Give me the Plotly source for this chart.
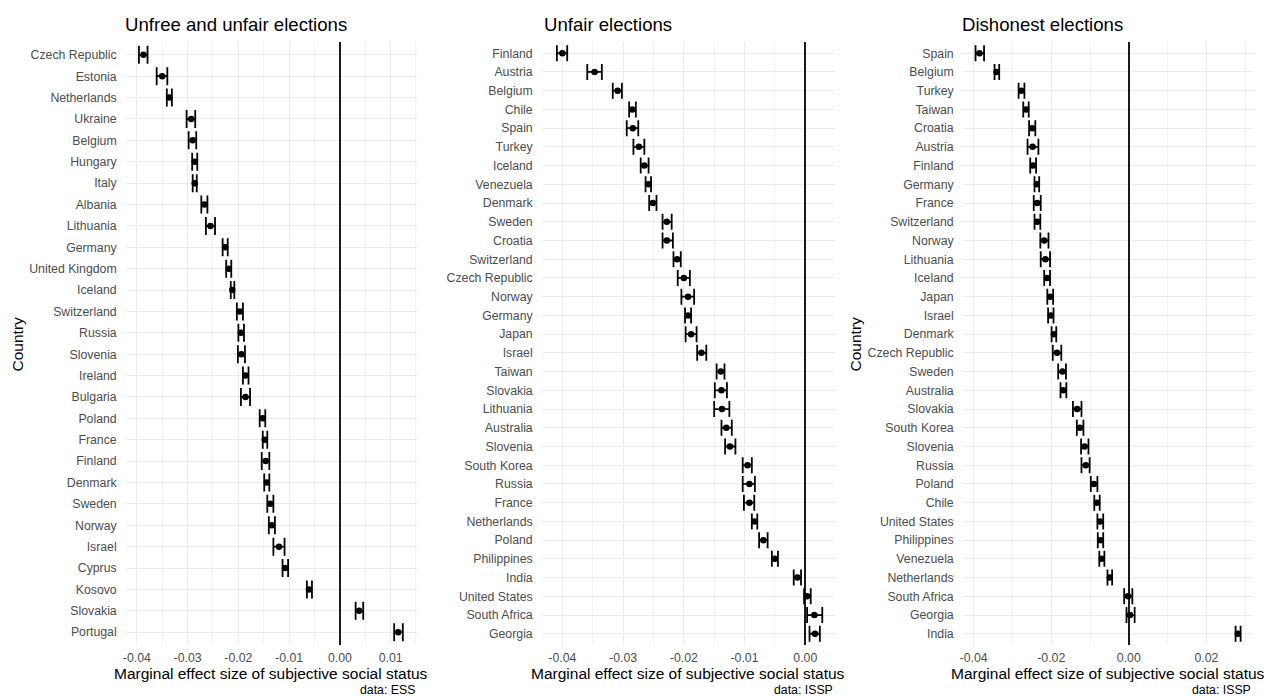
import plotly.graph_objects as go

# ---------------- data ----------------
ess_countries = ["Czech Republic", "Estonia", "Netherlands", "Ukraine", "Belgium", "Hungary",
                 "Italy", "Albania", "Lithuania", "Germany", "United Kingdom", "Iceland",
                 "Switzerland", "Russia", "Slovenia", "Ireland", "Bulgaria", "Poland", "France",
                 "Finland", "Denmark", "Sweden", "Norway", "Israel", "Cyprus", "Kosovo",
                 "Slovakia", "Portugal"]
ess_est = [-0.0387, -0.0350, -0.0336, -0.0293, -0.0290, -0.0286, -0.0286, -0.0267, -0.0255,
           -0.0226, -0.0219, -0.0212, -0.0197, -0.0195, -0.0194, -0.0186, -0.0186, -0.0152,
           -0.0148, -0.0146, -0.0144, -0.0137, -0.0134, -0.0120, -0.0108, -0.0061, 0.0038, 0.0115]
ess_lo = [-0.0396, -0.0361, -0.0341, -0.0302, -0.0298, -0.0291, -0.0290, -0.0273, -0.0264,
          -0.0231, -0.0224, -0.0215, -0.0203, -0.0200, -0.0201, -0.0191, -0.0195, -0.0158,
          -0.0152, -0.0154, -0.0149, -0.0143, -0.0140, -0.0131, -0.0113, -0.0065, 0.0031, 0.0107]
ess_hi = [-0.0379, -0.0340, -0.0331, -0.0285, -0.0283, -0.0281, -0.0282, -0.0261, -0.0246,
          -0.0221, -0.0214, -0.0208, -0.0191, -0.0189, -0.0187, -0.0180, -0.0177, -0.0147,
          -0.0143, -0.0139, -0.0139, -0.0131, -0.0128, -0.0109, -0.0102, -0.0055, 0.0046, 0.0124]

unfair_countries = ["Finland", "Austria", "Belgium", "Chile", "Spain", "Turkey", "Iceland",
                    "Venezuela", "Denmark", "Sweden", "Croatia", "Switzerland", "Czech Republic",
                    "Norway", "Germany", "Japan", "Israel", "Taiwan", "Slovakia", "Lithuania",
                    "Australia", "Slovenia", "South Korea", "Russia", "France", "Netherlands",
                    "Poland", "Philippines", "India", "United States", "South Africa", "Georgia"]
unfair_est = [-0.0400, -0.0347, -0.0309, -0.0285, -0.0284, -0.0274, -0.0265, -0.0258, -0.0251,
              -0.0228, -0.0228, -0.0211, -0.0200, -0.0193, -0.0193, -0.0188, -0.0171, -0.0139,
              -0.0138, -0.0137, -0.0130, -0.0124, -0.0095, -0.0092, -0.0092, -0.0084, -0.0069,
              -0.0050, -0.0013, 0.0003, 0.0015, 0.0016]
unfair_lo = [-0.0409, -0.0359, -0.0317, -0.0290, -0.0294, -0.0283, -0.0271, -0.0263, -0.0257,
             -0.0235, -0.0235, -0.0217, -0.0210, -0.0204, -0.0198, -0.0197, -0.0178, -0.0146,
             -0.0149, -0.0150, -0.0138, -0.0132, -0.0103, -0.0103, -0.0101, -0.0088, -0.0076,
             -0.0055, -0.0019, -0.0002, 0.0003, 0.0007]
unfair_hi = [-0.0392, -0.0335, -0.0302, -0.0279, -0.0275, -0.0265, -0.0258, -0.0254, -0.0245,
             -0.0220, -0.0218, -0.0205, -0.0190, -0.0183, -0.0188, -0.0179, -0.0163, -0.0133,
             -0.0129, -0.0125, -0.0121, -0.0115, -0.0088, -0.0083, -0.0084, -0.0079, -0.0062,
             -0.0045, -0.0007, 0.0009, 0.0028, 0.0024]

dishonest_countries = ["Spain", "Belgium", "Turkey", "Taiwan", "Croatia", "Austria", "Finland",
                       "Germany", "France", "Switzerland", "Norway", "Lithuania", "Iceland",
                       "Japan", "Israel", "Denmark", "Czech Republic", "Sweden", "Australia",
                       "Slovakia", "South Korea", "Slovenia", "Russia", "Poland", "Chile",
                       "United States", "Philippines", "Venezuela", "Netherlands", "South Africa",
                       "Georgia", "India"]
dishonest_est = [-0.0385, -0.0341, -0.0277, -0.0265, -0.0249, -0.0248, -0.0247, -0.0237, -0.0236,
                 -0.0236, -0.0218, -0.0215, -0.0211, -0.0203, -0.0201, -0.0193, -0.0185, -0.0171,
                 -0.0169, -0.0133, -0.0126, -0.0114, -0.0111, -0.0090, -0.0082, -0.0074, -0.0073,
                 -0.0070, -0.0049, -0.0002, 0.0003, 0.0281]
dishonest_lo = [-0.0395, -0.0346, -0.0284, -0.0272, -0.0257, -0.0261, -0.0254, -0.0243, -0.0245,
                -0.0243, -0.0228, -0.0227, -0.0218, -0.0210, -0.0208, -0.0199, -0.0196, -0.0182,
                -0.0176, -0.0144, -0.0134, -0.0123, -0.0122, -0.0098, -0.0089, -0.0081, -0.0080,
                -0.0076, -0.0055, -0.0012, -0.0006, 0.0275]
dishonest_hi = [-0.0373, -0.0334, -0.0269, -0.0258, -0.0241, -0.0233, -0.0239, -0.0231, -0.0227,
                -0.0228, -0.0207, -0.0203, -0.0203, -0.0195, -0.0194, -0.0187, -0.0174, -0.0162,
                -0.0161, -0.0122, -0.0117, -0.0104, -0.0101, -0.0081, -0.0075, -0.0066, -0.0066,
                -0.0063, -0.0043, 0.0009, 0.0015, 0.0288]

titles = ["Unfree and unfair elections", "Unfair elections", "Dishonest elections"]
captions = ["data: ESS", "data: ISSP", "data: ISSP"]
x_title = "Marginal effect size of subjective social status"
y_title = "Country"

ticks_a = [-0.04, -0.03, -0.02, -0.01, 0.00, 0.01]
ticklabels_a = ["-0.04", "-0.03", "-0.02", "-0.01", "0.00", "0.01"]
ticks_b = [-0.04, -0.03, -0.02, -0.01, 0.00]
ticklabels_b = ["-0.04", "-0.03", "-0.02", "-0.01", "0.00"]
ticks_c = [-0.04, -0.02, 0.00, 0.02]
ticklabels_c = ["-0.04", "-0.02", "0.00", "0.02"]
minor_a = [-0.035, -0.025, -0.015, -0.005, 0.005, 0.015]
minor_b = [-0.035, -0.025, -0.015, -0.005]
minor_c = [-0.03, -0.01, 0.01, 0.03]

# ---------------- layout geometry (pixels) ----------------
W, H = 1264, 698
panels = [
    dict(c=ess_countries, e=ess_est, lo=ess_lo, hi=ess_hi, left=123, right=415,
         xr=[-0.0422, 0.0152], tv=ticks_a, tt=ticklabels_a, mv=minor_a, cap=9, ylab=True, tx=120),
    dict(c=unfair_countries, e=unfair_est, lo=unfair_lo, hi=unfair_hi, left=540, right=834,
         xr=[-0.0434, 0.0049], tv=ticks_b, tt=ticklabels_b, mv=minor_b, cap=8, ylab=False, tx=540),
    dict(c=dishonest_countries, e=dishonest_est, lo=dishonest_lo, hi=dishonest_hi, left=962, right=1253,
         xr=[-0.0428, 0.0320], tv=ticks_c, tt=ticklabels_c, mv=minor_c, cap=8, ylab=True, tx=959),
]
top_px, bot_px = 42, 645

def px_x(p):
    return p / W

def px_y(p):
    return 1 - p / H

FONT = "Liberation Sans, Arial, sans-serif"
GRID = "#ebebeb"

fig = go.Figure()
annotations = []
layout_axes = {}

for i, p in enumerate(panels):
    s = "" if i == 0 else str(i + 1)
    n = len(p["c"])
    fig.add_trace(go.Scatter(
        x=p["e"], y=p["c"], mode="markers",
        marker=dict(color="black", size=6.5),
        error_x=dict(type="data", symmetric=False,
                     array=[h - e for h, e in zip(p["hi"], p["e"])],
                     arrayminus=[e - l for e, l in zip(p["e"], p["lo"])],
                     color="black", thickness=1.8, width=p["cap"]),
        xaxis="x" + s, yaxis="y" + s, showlegend=False, hoverinfo="x+y",
    ))
    layout_axes["xaxis" + s] = dict(
        domain=[px_x(p["left"]), px_x(p["right"])], anchor="y" + s,
        range=p["xr"], tickmode="array", tickvals=p["tv"], ticktext=p["tt"],
        showgrid=True, gridcolor=GRID, gridwidth=1.1,
        minor=dict(tickmode="array", tickvals=p["mv"], showgrid=True, gridcolor="#f2f2f2", gridwidth=0.6),
        zeroline=True, zerolinecolor="#1a1a1a", zerolinewidth=1.6,
        showline=False, ticks="", ticklabelstandoff=4,
        tickfont=dict(family=FONT, size=12.3, color="#4d4d4d"),
    )
    layout_axes["yaxis" + s] = dict(
        domain=[px_y(bot_px), px_y(top_px)], anchor="x" + s,
        type="category", categoryorder="array", categoryarray=p["c"],
        range=[n - 1 + 0.6, -0.6],
        showgrid=True, gridcolor=GRID, gridwidth=1.1, zeroline=False,
        showline=False, ticks="", ticklabelstandoff=8,
        tickfont=dict(family=FONT, size=12.3, color="#4d4d4d"),
    )
    # panel title
    annotations.append(dict(text=titles[i], x=px_x(p["tx"]), y=px_y(24), xref="paper", yref="paper",
                            xanchor="left", yanchor="middle", showarrow=False,
                            font=dict(family=FONT, size=18.6, color="black")))
    # x-axis title
    annotations.append(dict(text=x_title, x=px_x((p["left"] + p["right"]) / 2), y=px_y(673),
                            xref="paper", yref="paper", xanchor="center", yanchor="middle",
                            showarrow=False, font=dict(family=FONT, size=15.5, color="black")))
    # caption
    annotations.append(dict(text=captions[i], x=px_x(p["right"]), y=px_y(690), xref="paper", yref="paper",
                            xanchor="right", yanchor="middle", showarrow=False,
                            font=dict(family=FONT, size=12.3, color="black")))
    if p["ylab"]:
        annotations.append(dict(text=y_title, x=px_x(15 if i == 0 else 855), y=px_y((top_px + bot_px) / 2),
                                xref="paper", yref="paper", xanchor="center", yanchor="middle",
                                textangle=-90, showarrow=False,
                                font=dict(family=FONT, size=15.5, color="black")))

fig.update_layout(
    width=W, height=H, margin=dict(l=0, r=0, t=0, b=0),
    plot_bgcolor="white", paper_bgcolor="white",
    annotations=annotations, showlegend=False,
    **layout_axes,
)

fig.write_html("out.html")
